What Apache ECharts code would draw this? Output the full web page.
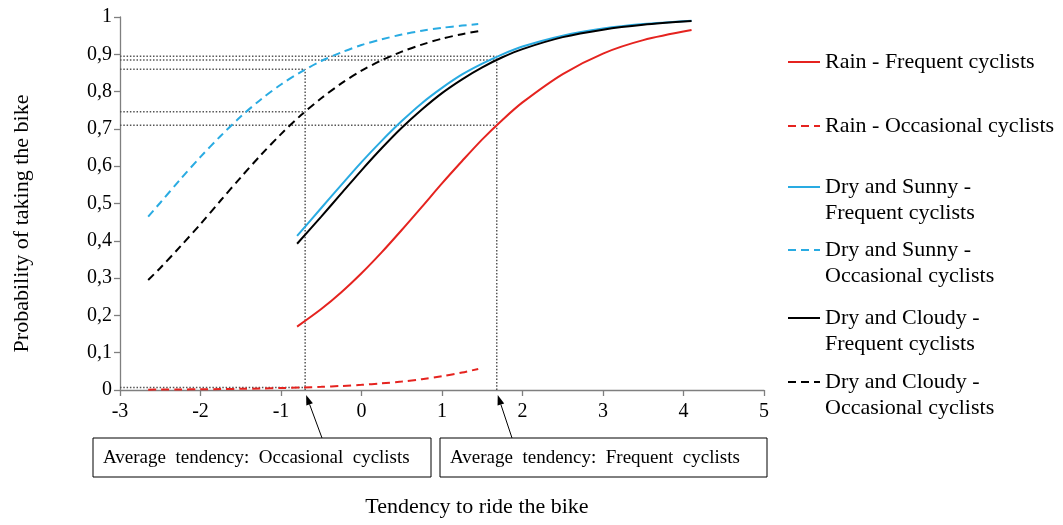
<!DOCTYPE html>
<html>
<head>
<meta charset="utf-8">
<script src="https://cdn.jsdelivr.net/npm/echarts@6/dist/echarts.min.js"></script>
<style>html,body{margin:0;padding:0;background:#fff;}#c{width:1063px;height:525px;}</style>
</head>
<body>
<div id="c"></div>
<script>
// ---- data ----
const xFrequent = [-0.8, -0.5, -0.25, 0, 0.25, 0.5, 0.75, 1, 1.25, 1.5, 1.75, 2, 2.5, 3, 3.5, 4.1];
const rainFrequent   = [0.170, 0.217, 0.262, 0.313, 0.369, 0.429, 0.491, 0.554, 0.614, 0.672, 0.724, 0.771, 0.847, 0.902, 0.938, 0.965];
const sunnyFrequent  = [0.413, 0.488, 0.550, 0.611, 0.668, 0.721, 0.769, 0.810, 0.846, 0.875, 0.900, 0.921, 0.950, 0.969, 0.981, 0.990];
const cloudyFrequent = [0.392, 0.465, 0.527, 0.589, 0.648, 0.703, 0.752, 0.796, 0.833, 0.865, 0.892, 0.914, 0.946, 0.966, 0.979, 0.989];

const xOccasional = [-2.65, -2.5, -2.25, -2, -1.75, -1.5, -1.25, -1, -0.75, -0.5, -0.25, 0, 0.25, 0.5, 0.75, 1, 1.25, 1.45];
const rainOccasional   = [0.001, 0.0012, 0.0015, 0.0019, 0.0024, 0.0031, 0.0040, 0.0052, 0.0066, 0.0085, 0.0108, 0.0139, 0.0177, 0.0226, 0.0289, 0.0368, 0.0468, 0.0565];
const sunnyOccasional  = [0.465, 0.502, 0.565, 0.625, 0.681, 0.733, 0.779, 0.819, 0.853, 0.882, 0.905, 0.925, 0.940, 0.953, 0.963, 0.971, 0.977, 0.981];
const cloudyOccasional = [0.295, 0.327, 0.385, 0.445, 0.508, 0.570, 0.630, 0.686, 0.737, 0.782, 0.822, 0.856, 0.884, 0.907, 0.926, 0.942, 0.954, 0.962];

const avgOccasional = -0.7;
const avgFrequent = 1.68;
// horizontal reference levels: [probability, x where it ends]
const refLevels = [[0.895, 1.68], [0.885, 1.68], [0.86, -0.7], [0.746, -0.7], [0.71, 1.68], [0.007, -0.7]];
// vertical reference lines: [x, top probability]
const refVerticals = [[-0.7, 0.86], [1.68, 0.895]];

const seriesNames = [
  'Rain - Frequent cyclists',
  'Rain - Occasional cyclists',
  'Dry and Sunny -\nFrequent cyclists',
  'Dry and Sunny -\nOccasional cyclists',
  'Dry and Cloudy -\nFrequent cyclists',
  'Dry and Cloudy -\nOccasional cyclists'
];
const xTicks = [-3, -2, -1, 0, 1, 2, 3, 4, 5];
const boxLabels = ['Average  tendency:  Occasional  cyclists', 'Average  tendency:  Frequent  cyclists'];

// ---- build ----
const FONT = '"Liberation Serif", "DejaVu Serif", serif';
const RED = '#e5231f', BLUE = '#29abe2', BLACK = '#000000';
const zip = (xs, ys) => xs.map((x, i) => [x, ys[i]]);
const dash = [8, 5];

function curve(name, xs, ys, color, dashed) {
  return {
    name: name, type: 'line', data: zip(xs, ys), smooth: 0.3, showSymbol: false, symbol: 'none',
    lineStyle: { color: color, width: 2, type: dashed ? dash : 'solid' },
    itemStyle: { color: color }, z: 3, silent: true
  };
}

const series = [
  curve(seriesNames[0], xFrequent, rainFrequent, RED, false),
  curve(seriesNames[1], xOccasional, rainOccasional, RED, true),
  curve(seriesNames[2], xFrequent, sunnyFrequent, BLUE, false),
  curve(seriesNames[3], xOccasional, sunnyOccasional, BLUE, true),
  curve(seriesNames[4], xFrequent, cloudyFrequent, BLACK, false),
  curve(seriesNames[5], xOccasional, cloudyOccasional, BLACK, true)
];
const refStyle = { color: '#555', width: 1.5, type: [1.5, 1.8] };
refLevels.forEach(r => series.push({
  type: 'line', data: [[-3, r[0]], [r[1], r[0]]], symbol: 'none', lineStyle: refStyle, silent: true, z: 1
}));
refVerticals.forEach(r => series.push({
  type: 'line', data: [[r[0], 0], [r[0], r[1]]], symbol: 'none', lineStyle: refStyle, silent: true, z: 1
}));

// legends: one per item so spacing matches
const legendTops = [49, 113, 148, 211, 279, 343];
const legends = seriesNames.map((n, i) => ({
  data: [n], orient: 'vertical', left: 787, top: legendTops[i], padding: 0,
  itemWidth: 32, itemHeight: 14, itemGap: 0, selectedMode: false,
  itemStyle: { opacity: 0 },
  formatter: name => name.indexOf('\n') >= 0 ? ' \n' + name : name,
  textStyle: { fontFamily: FONT, fontSize: 22, color: '#000', lineHeight: 26 }
}));

const option = {
  animation: false,
  backgroundColor: '#fff',
  grid: { left: 120, right: 299, top: 17, bottom: 135 },
  legend: legends,
  xAxis: {
    type: 'value', min: -3, max: 5, interval: 1,
    name: 'Tendency to ride the bike', nameLocation: 'middle', nameGap: 106,
    nameTextStyle: { fontFamily: FONT, fontSize: 22, color: '#000', padding: [0, 0, 0, 70] },
    axisLine: { onZero: false, lineStyle: { color: '#7f7f7f', width: 1.3 } },
    axisTick: { show: true, length: 6, lineStyle: { color: '#7f7f7f', width: 1.3 } },
    axisLabel: { fontFamily: FONT, fontSize: 20, color: '#000', margin: 12,
      formatter: v => xTicks.indexOf(v) >= 0 ? String(v) : '' },
    splitLine: { show: false }
  },
  yAxis: {
    type: 'value', min: 0, max: 1, interval: 0.1,
    name: 'Probability of taking the bike', nameLocation: 'middle', nameGap: 87,
    nameTextStyle: { fontFamily: FONT, fontSize: 22, color: '#000', padding: [0, 40, 0, 0] },
    axisLine: { show: true, onZero: false, lineStyle: { color: '#7f7f7f', width: 1.3 } },
    axisTick: { show: true, length: 6, lineStyle: { color: '#7f7f7f', width: 1.3 } },
    axisLabel: { fontFamily: FONT, fontSize: 20, color: '#000', margin: 8,
      formatter: v => {
        const r = Math.round(v * 10) / 10;
        if (r === 0) return '0';
        if (r === 1) return '1';
        return r.toFixed(1).replace('.', ',');
      } },
    splitLine: { show: false }
  },
  series: series
};

const chart = echarts.init(document.getElementById('c'), null, { renderer: 'canvas' });
chart.setOption(option);

// annotation boxes with arrows pointing at the average tendencies
const boxes = [
  { x: 93, w: 338, label: boxLabels[0], target: avgOccasional, from: 322 },
  { x: 440, w: 327, label: boxLabels[1], target: avgFrequent, from: 512 }
];
const graphics = [];
const boxTop = 438, boxH = 39;
boxes.forEach(b => {
  graphics.push({ type: 'rect', shape: { x: b.x, y: boxTop, width: b.w, height: boxH },
    style: { fill: '#fff', stroke: '#000', lineWidth: 1 }, z: 10 });
  graphics.push({ type: 'text', x: b.x + 10, y: boxTop + boxH / 2 + 1,
    style: { text: b.label, font: '19px ' + FONT, fill: '#000', verticalAlign: 'middle' }, z: 11 });
  const tip = chart.convertToPixel({ gridIndex: 0 }, [b.target, 0]);
  const tx = tip[0] + 1, ty = tip[1] + 5;
  const sx = b.from, sy = boxTop;
  const dx = tx - sx, dy = ty - sy, len = Math.sqrt(dx * dx + dy * dy);
  const ux = dx / len, uy = dy / len;
  const hl = 10, hw = 3.5;
  const bx = tx - ux * hl, by = ty - uy * hl;
  graphics.push({ type: 'line', shape: { x1: sx, y1: sy, x2: bx, y2: by },
    style: { stroke: '#000', lineWidth: 1 }, z: 10 });
  graphics.push({ type: 'polygon', shape: { points: [[tx, ty], [bx - uy * hw, by + ux * hw], [bx + uy * hw, by - ux * hw]] },
    style: { fill: '#000' }, z: 10 });
});
chart.setOption({ graphic: graphics });
</script>
</body>
</html>
